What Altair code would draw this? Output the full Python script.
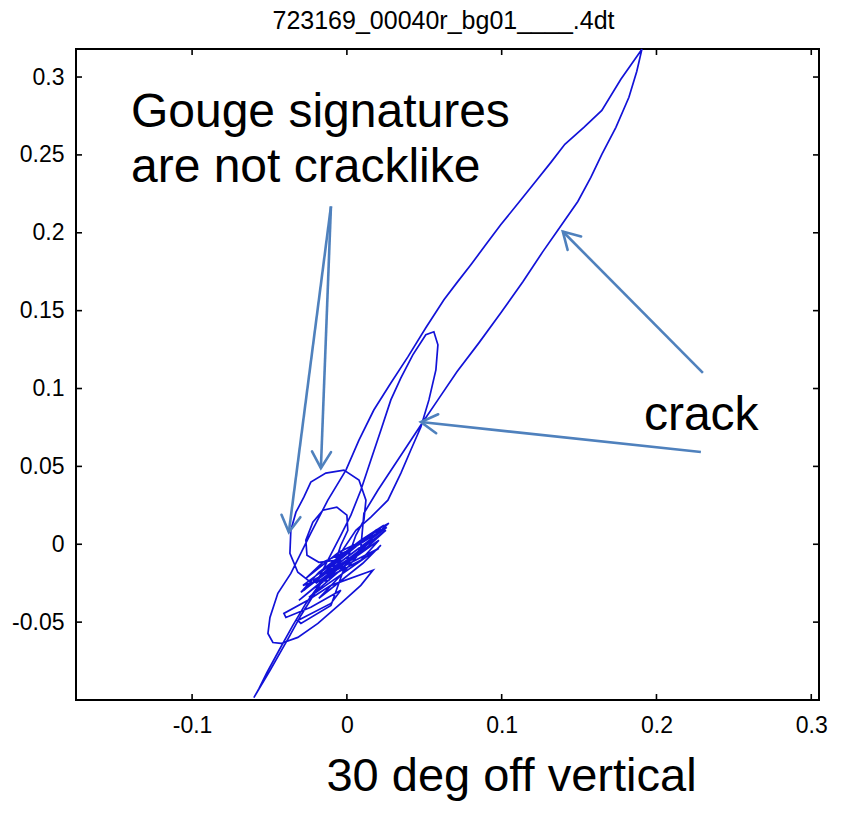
import math
import altair as alt
import pandas as pd

FONT = "Liberation Sans"
TITLE = "723169_00040r_bg01____.4dt"
X_LABEL = "30 deg off vertical"

x_domain = [-0.175, 0.305]
y_domain = [-0.1, 0.318]
x_ticks = [-0.1, 0.0, 0.1, 0.2, 0.3]
y_ticks = [-0.05, 0.0, 0.05, 0.1, 0.15, 0.2, 0.25, 0.3]

# trace (in path order)
trace_x = [
    -0.0039, -0.0168, -0.0297, -0.0375, -0.0497, -0.0601, -0.0568, -0.0517, -0.0439, -0.0349,
    -0.0265, -0.0181,
    0.0058, 0.0271, 0.0187, -0.0168, -0.0278, 0.0026, 0.0220, 0.0123, -0.0233, -0.0310,
    -0.0071, 0.0207, 0.0168, -0.0136, -0.0245, -0.0006, 0.0090,
    0.0110, 0.0200, 0.0329, 0.0491, 0.0588, 0.0711, 0.0853, 0.0995, 0.1137, 0.1266,
    0.1357, 0.1492, 0.1576, 0.1647, 0.1738, 0.1822, 0.1873, 0.1906,
    0.1770, 0.1647, 0.1531, 0.1408, 0.1318, 0.1214, 0.1105, 0.0995, 0.0898, 0.0801,
    0.0711, 0.0627, 0.0510, 0.0394, 0.0284, 0.0174, 0.0078, -0.0006, -0.0123, -0.0233,
    -0.0362, -0.0446, -0.0497, -0.0510, -0.0478, -0.0426, -0.0317, -0.0187, -0.0039, 0.0090,
    0.0168,
    -0.0103, -0.0252, -0.0407, -0.0394, -0.0233, -0.0039,
    -0.0103, -0.0317, -0.0297, -0.0103,
    0.0058, 0.0110, 0.0123, 0.0078, -0.0019, -0.0136, -0.0233, -0.0278, -0.0329, -0.0362,
    -0.0368, -0.0317, -0.0233, -0.0116,
    -0.0039, 0.0006, 0.0000, -0.0065, -0.0155, -0.0220, -0.0265, -0.0258, -0.0181, -0.0071,
    0.0058, 0.0155, 0.0265, 0.0349, 0.0413, 0.0478, 0.0530, 0.0575, 0.0588, 0.0562,
    0.0510, 0.0426, 0.0349, 0.0284, 0.0220, 0.0155, 0.0090, 0.0026, -0.0039,
    -0.0200, 0.0058, 0.0252, 0.0123, -0.0103, -0.0220, 0.0026, 0.0207, 0.0090, -0.0136,
    -0.0284, 0.0239, 0.0090, -0.0181, -0.0297, -0.0026, 0.0258, 0.0039, -0.0155, -0.0265,
    -0.0052, 0.0187, -0.0039, -0.0181, 0.0103, 0.0220,
]
trace_y = [
    -0.0103, -0.0251, -0.0457, -0.0598, -0.0811, -0.0985, -0.0927, -0.0824, -0.0682, -0.0521,
    -0.0380, -0.0264,
    -0.0058, 0.0135, 0.0090, -0.0199, -0.0296, -0.0026, 0.0103, -0.0006, -0.0296, -0.0360,
    -0.0167, -0.0026, -0.0051, -0.0264, -0.0341, -0.0135, -0.0026,
    0.0199, 0.0347, 0.0541, 0.0785, 0.0927, 0.1107, 0.1293, 0.1486, 0.1686, 0.1879,
    0.2008, 0.2201, 0.2355, 0.2503, 0.2677, 0.2870, 0.3037, 0.3179,
    0.2986, 0.2786, 0.2677, 0.2568, 0.2452, 0.2323, 0.2188, 0.2053, 0.1924, 0.1795,
    0.1680, 0.1570, 0.1390, 0.1203, 0.1036, 0.0862, 0.0669, 0.0476, 0.0283, 0.0071,
    -0.0187, -0.0315, -0.0470, -0.0573, -0.0631, -0.0637, -0.0598, -0.0508, -0.0380, -0.0264,
    -0.0167,
    -0.0264, -0.0360, -0.0444, -0.0470, -0.0405, -0.0296,
    -0.0380, -0.0489, -0.0508, -0.0393,
    0.0058, 0.0154, 0.0283, 0.0412, 0.0476, 0.0457, 0.0399, 0.0302, 0.0206, 0.0090,
    -0.0058, -0.0180, -0.0245, -0.0232,
    -0.0006, 0.0090, 0.0187, 0.0238, 0.0219, 0.0142, 0.0026, -0.0071, -0.0116, -0.0103,
    0.0090, 0.0174, 0.0283, 0.0457, 0.0605, 0.0753, 0.0927, 0.1120, 0.1281, 0.1364,
    0.1345, 0.1216, 0.1068, 0.0927, 0.0734, 0.0541, 0.0347, 0.0187, 0.0058,
    -0.0251, -0.0058, 0.0090, -0.0026, -0.0167, -0.0232, -0.0103, 0.0026, -0.0103, -0.0219,
    -0.0264, 0.0122, 0.0026, -0.0180, -0.0309, -0.0103, 0.0109, -0.0026, -0.0116, -0.0219,
    -0.0051, 0.0064, -0.0199, -0.0347, -0.0122, -0.0006,
]

# annotation arrows: start -> tip
arrow_x0 = [-0.0103, -0.0103, 0.2300, 0.2287]
arrow_y0 = [0.2169, 0.2169, 0.1100, 0.0592]
arrow_x1 = [-0.0375, -0.0168, 0.1395, 0.0478]
arrow_y1 = [0.0077, 0.0489, 0.2008, 0.0785]

note_text = ["Gouge signatures", "are not cracklike", "crack"]
note_x = [-0.1395, -0.1395, 0.1919]
note_y = [0.2677, 0.2323, 0.0734]

W, H = 743, 651
LINE_COLOR = "#1212d8"
ARROW_COLOR = "#4f81bd"

xs = alt.Scale(domain=x_domain, nice=False, zero=False)
ys = alt.Scale(domain=y_domain, nice=False, zero=False)

sx = W / (x_domain[1] - x_domain[0])
sy = H / (y_domain[1] - y_domain[0])
angles = [
    math.degrees(math.atan2(-(d - b) * sy, (c - a) * sx)) % 360
    for a, b, c, d in zip(arrow_x0, arrow_y0, arrow_x1, arrow_y1)
]

trace_df = pd.DataFrame({"i": range(len(trace_x)), "x": trace_x, "y": trace_y})
arrow_df = pd.DataFrame({"x": arrow_x0, "y": arrow_y0, "x2": arrow_x1, "y2": arrow_y1})
head_df = pd.DataFrame({"x": arrow_x1, "y": arrow_y1, "ang": angles})
note_df = pd.DataFrame({"t": note_text, "x": note_x, "y": note_y})
xt_df = pd.DataFrame({"x": x_ticks})
yt_df = pd.DataFrame({"y": y_ticks})

x_axis = alt.Axis(
    values=x_ticks, ticks=False, domain=False, grid=False,
    labelFontSize=23, labelFont=FONT, labelColor="black", labelPadding=14,
    labelExpr="'' + datum.value",
    title=X_LABEL, titleFontSize=47, titleFont=FONT, titleFontWeight="normal",
    titleColor="black", titleX=435, titleY=90, titleBaseline="alphabetic", titleAlign="center",
)
y_axis = alt.Axis(
    values=y_ticks, ticks=False, domain=False, grid=False,
    labelFontSize=23, labelFont=FONT, labelColor="black", labelPadding=12,
    labelExpr="'' + datum.value", title=None,
)

X = alt.X("x:Q", scale=xs, axis=x_axis)
Y = alt.Y("y:Q", scale=ys, axis=y_axis)

trace = alt.Chart(trace_df).mark_line(color=LINE_COLOR, strokeWidth=1.7).encode(
    x=X, y=Y, order=alt.Order("i:Q"),
)

arrows = alt.Chart(arrow_df).mark_rule(color=ARROW_COLOR, strokeWidth=2.6).encode(
    x=X, y=Y, x2="x2:Q", y2="y2:Q",
)

heads = alt.Chart(head_df).mark_point(
    shape="M-1,-0.58L0,0L-1,0.58", filled=False, size=1076, strokeWidth=2.6,
    color=ARROW_COLOR, opacity=1, strokeCap="round", strokeJoin="miter",
).encode(
    x=X, y=Y, angle=alt.Angle("ang:Q", scale=None),
)

notes = alt.Chart(note_df).mark_text(
    align="left", baseline="alphabetic", fontSize=48, font=FONT, color="black",
).encode(x=X, y=Y, text="t:N")

TL = 6
tick_style = dict(color="black", strokeWidth=1.6)
top_ticks = alt.Chart(xt_df).mark_rule(**tick_style).encode(
    x=X, y=alt.value(0), y2=alt.value(TL))
bottom_ticks = alt.Chart(xt_df).mark_rule(**tick_style).encode(
    x=X, y=alt.value(H), y2=alt.value(H - TL))
left_ticks = alt.Chart(yt_df).mark_rule(**tick_style).encode(
    y=Y, x=alt.value(0), x2=alt.value(TL))
right_ticks = alt.Chart(yt_df).mark_rule(**tick_style).encode(
    y=Y, x=alt.value(W), x2=alt.value(W - TL))

chart = alt.layer(
    trace, arrows, heads, notes, top_ticks, bottom_ticks, left_ticks, right_ticks
).properties(
    width=W,
    height=H,
    title=alt.TitleParams(
        TITLE, fontSize=25, font=FONT, fontWeight="normal", color="black",
        anchor="middle", offset=12, dx=-4,
    ),
    padding={"left": 76, "top": 49, "right": 26, "bottom": 129},
    autosize=alt.AutoSizeParams(type="none"),
).configure(
    background="white",
    view=alt.ViewConfig(stroke="black", strokeWidth=2),
)

chart.save("out.html", embed_options={"renderer": "svg", "actions": False})
